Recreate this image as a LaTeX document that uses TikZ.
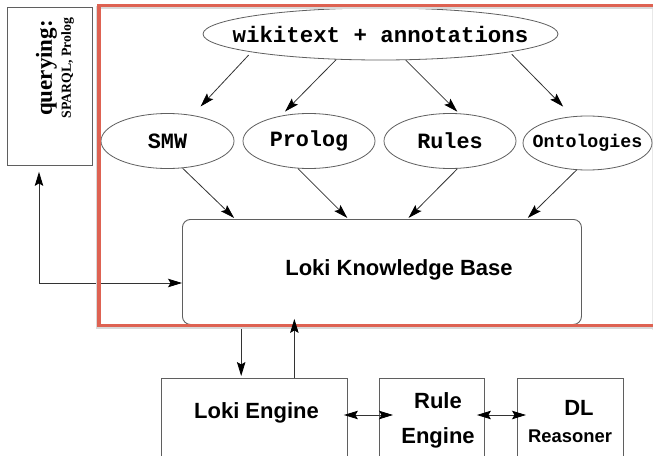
\documentclass[tikz,border=0pt]{standalone}
\usepackage{fontspec}
\setmainfont{Liberation Serif}
\setsansfont{Liberation Sans}
\setmonofont{Liberation Mono}
\usetikzlibrary{arrows.meta,calc,shapes.geometric}
\definecolor{framered}{RGB}{222,98,82}
\definecolor{edgegray}{RGB}{95,95,95}
\begin{document}
\begin{tikzpicture}[x=1pt,y=-1pt,
  ell/.style={draw=edgegray, ellipse, line width=0.8pt, inner sep=0pt, fill=white},
  boxnode/.style={draw=edgegray, line width=0.9pt, inner sep=0pt, fill=white},
  tipS/.tip={Stealth[length=14pt,width=8.5pt,inset=2.5pt,color=black,fill=black]},
  arr/.style={draw=black!80, line width=0.8pt, -{tipS}},
  darr/.style={draw=black!80, line width=0.8pt, {tipS}-{tipS}},
  monolab/.style={font=\ttfamily\bfseries\fontsize{#1}{#1}\selectfont, inner sep=0pt},
  sanslab/.style={font=\sffamily\bfseries\fontsize{#1}{#1}\selectfont, inner sep=0pt}]
\useasboundingbox (0,0) rectangle (653,455);
\clip (0,0) rectangle (653,455);

% faint outer edge line
\draw[gray!18, line width=0.6pt] (652,6) -- (652,330);

% querying box
\node[boxnode, minimum width=85pt, minimum height=158pt, anchor=north west] (qbox) at (7,7) {};
\node[rotate=90, align=center, inner sep=0pt, font=\bfseries\fontsize{23}{19}\selectfont] (qtext) at (55,68)
  {querying:\\{\fontsize{13.8}{19}\selectfont SPARQL, Prolog}};

% knowledge base
\node[boxnode, rounded corners=8pt, minimum width=399pt, minimum height=105pt, anchor=north west] (kb) at (182,219) {};
\node[sanslab=22] (kbtext) at (399,270) {Loki Knowledge Base};

% ellipses
\node[ell, minimum width=355pt, minimum height=52pt] (wiki) at (380.5,34) {};
\node[monolab=22.4] (wikitext) at (wiki) {wikitext + annotations};
\node[ell, minimum width=133pt, minimum height=55pt] (smw) at (167.5,141) {};
\node[monolab=21.8] (smwtext) at (smw) {SMW};
\node[ell, minimum width=132pt, minimum height=55pt] (prolog) at (309,141) {};
\node[monolab=21.8] (prologtext) at (prolog) {Prolog};
\node[ell, minimum width=132pt, minimum height=55pt] (rules) at (450,141) {};
\node[monolab=21.8] (rulestext) at (rules) {Rules};
\node[ell, minimum width=129pt, minimum height=54pt] (onto) at (587.5,143) {};
\node[monolab=18.3] (ontotext) at (onto) {Ontologies};

% bottom boxes
\node[boxnode, minimum width=186pt, minimum height=100pt, anchor=north west] (loki) at (161,378) {};
\node[sanslab=22] (lokitext) at (256.5,413) {Loki Engine};
\node[boxnode, minimum width=105pt, minimum height=100pt, anchor=north west] (rule) at (379,378) {};
\node[font=\sffamily\bfseries\fontsize{22}{35}\selectfont, align=center, inner sep=0pt] (ruletext) at (438,420) {Rule\\Engine};
\node[boxnode, minimum width=106pt, minimum height=100pt, anchor=north west] (dl) at (517,378) {};
\node[sanslab=22] (dltext) at (579,408) {DL};
\node[sanslab=18.4] (reasonertext) at (570,436) {Reasoner};

% arrows top -> second row
\draw[arr, shorten <=4pt, shorten >=11.8pt] (wiki.188.1) -- (smw.46.6);
\draw[arr, shorten >=5.9pt] (wiki.210.6) -- (prolog.138.7);
\draw[arr, shorten >=2.4pt] (wiki.314.4) -- (rules.72.3);
\draw[arr, shorten <=3pt, shorten >=13.6pt] (wiki.352.1) -- (onto.119.7);

% arrows second row -> KB
\draw[arr, shorten >=1.5pt] (smw.299) -- ($(kb.north west)!0.133!(kb.north east)$);
\draw[arr, shorten >=1.5pt] (prolog.248.6) -- ($(kb.north west)!0.416!(kb.north east)$);
\draw[arr, shorten >=1.5pt] (rules.285.4) -- ($(kb.north west)!0.564!(kb.north east)$);
\draw[arr, shorten >=1.5pt] (onto.248.4) -- ($(kb.north west)!0.862!(kb.north east)$);

% querying <-> KB
\coordinate (qc) at (39,283);
\draw[darr, shorten <=6pt] (qc |- qbox.south) -- (qc) -- (qc -| kb.west);

% KB <-> Loki Engine
\coordinate (dn) at ($(kb.south west)!0.148!(kb.south east)$);
\coordinate (up) at ($(kb.south west)!0.281!(kb.south east)$);
\draw[arr, shorten >=2pt] (dn) -- (dn |- loki.north);

% engine <-> engine
\draw[darr] ($(loki.north east)+(-4,37)$) -- ($(rule.north west)+(14,37)$);
\draw[darr] ($(rule.north east)+(-8,37)$) -- ($(dl.north west)+(9,37)$);

% red frame with shadow
\draw[gray!30, line width=2.5pt, line join=miter] (670,7.5) -- (97.5,7.5) -- (97.5,327.5) -- (670,327.5);
\draw[framered, line width=3.5pt, line join=miter] (670,5.5) -- (99,5.5) -- (99,325.5) -- (670,325.5);

% up arrow, tip just below the frame
\draw[arr, shorten >=-6pt] (up |- loki.north) -- (up);
\end{tikzpicture}
\end{document}
